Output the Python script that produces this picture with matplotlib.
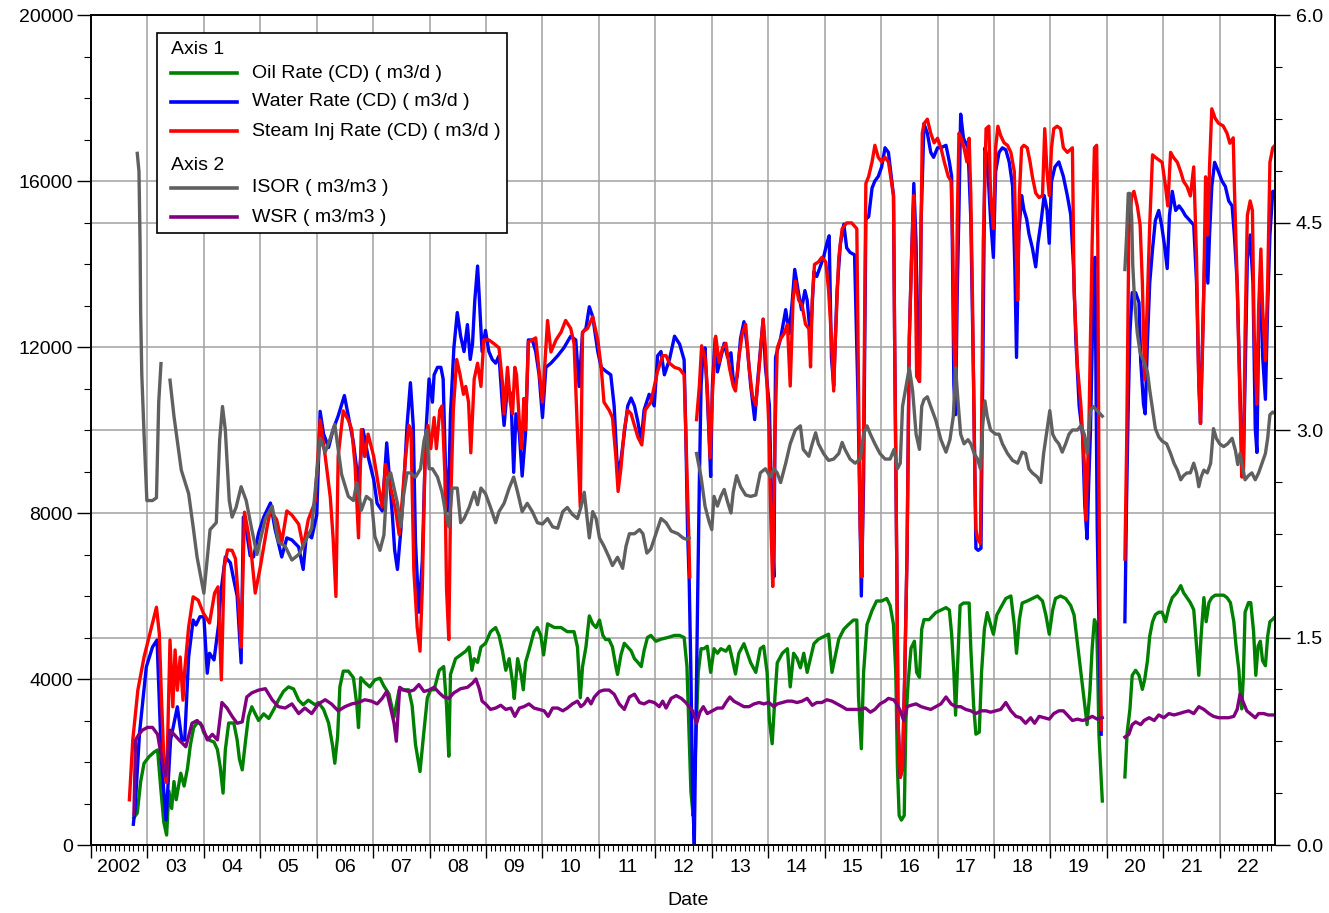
import numpy as np
import matplotlib

matplotlib.use("Agg")
import matplotlib.pyplot as plt
from matplotlib.lines import Line2D
from matplotlib.patches import Rectangle
from matplotlib.ticker import FixedLocator, FormatStrFormatter, MultipleLocator
from matplotlib.transforms import blended_transform_factory

plt.rcParams["font.family"] = ["Liberation Sans", "DejaVu Sans"]

nan = np.nan

# ---- data (decimal years) ----
oil_t = [
    2002.76, 2002.82, 2002.88, 2002.94, 2003.03, 2003.12, 2003.18, 2003.24, 2003.29, 2003.34,
    2003.38, 2003.43, 2003.47, 2003.51, 2003.59, 2003.65, 2003.71, 2003.76, 2003.82, 2003.88,
    2003.94, 2004.00, 2004.09, 2004.18, 2004.24, 2004.29, 2004.34, 2004.38, 2004.44, 2004.53,
    2004.59, 2004.63, 2004.68, 2004.74, 2004.79, 2004.85, 2004.91, 2004.97, 2005.06, 2005.15,
    2005.24, 2005.32, 2005.41, 2005.50, 2005.59, 2005.68, 2005.76, 2005.85, 2005.97, 2006.03,
    2006.12, 2006.21, 2006.28, 2006.32, 2006.37, 2006.41, 2006.47, 2006.56, 2006.65, 2006.71,
    2006.74, 2006.78, 2006.85, 2006.94, 2007.03, 2007.12, 2007.19, 2007.28, 2007.37, 2007.46,
    2007.54, 2007.63, 2007.69, 2007.75, 2007.83, 2007.89, 2007.96, 2008.02, 2008.08, 2008.17,
    2008.25, 2008.30, 2008.34, 2008.37, 2008.46, 2008.55, 2008.64, 2008.70, 2008.75, 2008.79,
    2008.85, 2008.91, 2008.99, 2009.08, 2009.17, 2009.23, 2009.29, 2009.35, 2009.41, 2009.47,
    2009.50, 2009.56, 2009.62, 2009.66, 2009.70, 2009.76, 2009.85, 2009.91, 2009.97, 2010.02,
    2010.09, 2010.21, 2010.33, 2010.44, 2010.56, 2010.62, 2010.67, 2010.71, 2010.77, 2010.83,
    2010.89, 2010.95, 2011.01, 2011.07, 2011.12, 2011.18, 2011.24, 2011.30, 2011.33, 2011.39,
    2011.45, 2011.51, 2011.57, 2011.63, 2011.69, 2011.75, 2011.80, 2011.86, 2011.92, 2012.01,
    2012.10, 2012.22, 2012.34, 2012.43, 2012.51, 2012.56, 2012.59, 2012.63, 2012.67, 2012.73,
    2012.76, 2012.81, 2012.86, 2012.92, 2012.98, 2013.04, 2013.10, 2013.16, 2013.25, 2013.31,
    2013.36, 2013.42, 2013.48, 2013.57, 2013.63, 2013.69, 2013.78, 2013.86, 2013.92, 2013.98,
    2014.02, 2014.07, 2014.12, 2014.16, 2014.25, 2014.34, 2014.39, 2014.45, 2014.51, 2014.57,
    2014.63, 2014.69, 2014.75, 2014.81, 2014.89, 2014.98, 2015.07, 2015.13, 2015.18, 2015.25,
    2015.34, 2015.42, 2015.51, 2015.57, 2015.60, 2015.65, 2015.69, 2015.75, 2015.84, 2015.92,
    2016.01, 2016.10, 2016.16, 2016.22, 2016.26, 2016.29, 2016.32, 2016.36, 2016.41, 2016.44,
    2016.48, 2016.53, 2016.59, 2016.63, 2016.68, 2016.72, 2016.76, 2016.85, 2016.97, 2017.06,
    2017.15, 2017.21, 2017.25, 2017.29, 2017.32, 2017.35, 2017.40, 2017.46, 2017.56, 2017.59,
    2017.64, 2017.68, 2017.74, 2017.78, 2017.83, 2017.88, 2017.94, 2017.99, 2018.05, 2018.12,
    2018.21, 2018.30, 2018.36, 2018.40, 2018.45, 2018.50, 2018.59, 2018.68, 2018.77, 2018.86,
    2018.92, 2018.98, 2019.04, 2019.09, 2019.18, 2019.27, 2019.36, 2019.42, 2019.48, 2019.54,
    2019.60, 2019.65, 2019.70, 2019.74, 2019.78, 2019.82, 2019.84, 2019.86, 2019.89, 2019.92,
    2020.10, 2020.32, 2020.36, 2020.41, 2020.45, 2020.51, 2020.57, 2020.63, 2020.67, 2020.72,
    2020.76, 2020.81, 2020.86, 2020.92, 2020.98, 2021.04, 2021.10, 2021.16, 2021.24, 2021.31,
    2021.36, 2021.42, 2021.48, 2021.54, 2021.59, 2021.63, 2021.67, 2021.72, 2021.76, 2021.81,
    2021.86, 2021.92, 2022.01, 2022.07, 2022.13, 2022.19, 2022.25, 2022.29, 2022.34, 2022.36,
    2022.39, 2022.42, 2022.45, 2022.51, 2022.55, 2022.60, 2022.64, 2022.68, 2022.72, 2022.76,
    2022.81, 2022.85, 2022.89, 2022.94, 2022.98,
]
oil_v = [
    660, 770, 1530, 1970, 2130, 2240, 2290, 1310, 550, 240,
    1300, 880, 1530, 1090, 1730, 1420, 1850, 2400, 2830, 2940,
    2940, 2700, 2530, 2480, 2300, 1880, 1250, 2290, 2940, 2940,
    2530, 2070, 1810, 2530, 3090, 3330, 3160, 3000, 3160, 3050,
    3270, 3490, 3700, 3810, 3760, 3490, 3380, 3490, 3380, 3430,
    3270, 2940, 2400, 1970, 2620, 3810, 4190, 4190, 4030, 3380,
    2830, 4030, 3920, 3810, 3980, 4020, 3830, 3640, 3080, 3740,
    3740, 3740, 3360, 2420, 1770, 2610, 3550, 3740, 3740, 4210,
    4300, 3360, 2140, 4110, 4490, 4580, 4670, 4770, 4210, 4490,
    4400, 4770, 4860, 5140, 5240, 5050, 4680, 4210, 4490, 3920,
    3530, 4490, 4120, 3740, 4400, 4680, 5140, 5240, 5050, 4580,
    5330, 5240, 5240, 5140, 5140, 4770, 3550, 4300, 4770, 5520,
    5330, 5240, 5420, 5050, 4950, 4950, 4770, 4300, 4110, 4580,
    4860, 4770, 4680, 4490, 4400, 4300, 4680, 5000, 5050, 4910,
    4960, 5000, 5050, 5050, 5000, 4300, 3010, 1290, 700, 3010,
    4160, 4730, 4730, 4790, 4160, 4730, 4620, 4730, 4670, 4790,
    4500, 4120, 4620, 4850, 4620, 4390, 4160, 4730, 4790, 4160,
    3010, 2440, 3590, 4390, 4620, 4730, 3810, 4620, 4500, 4270,
    4620, 4160, 4500, 4850, 4960, 5020, 5080, 4160, 4500, 4960,
    5200, 5310, 5420, 5420, 3580, 2320, 4160, 5310, 5650, 5880,
    5880, 5940, 5770, 5310, 4160, 1860, 710, 600, 710, 3010,
    3930, 4740, 4910, 4160, 4040, 5200, 5430, 5430, 5600, 5660,
    5720, 5660, 5080, 4160, 3130, 4160, 5770, 5830, 5830, 4740,
    3360, 2670, 2720, 4160, 5200, 5600, 5310, 5080, 5540, 5720,
    5940, 6000, 5310, 4620, 5430, 5830, 5880, 5940, 6000, 5880,
    5540, 5080, 5660, 5940, 6000, 5940, 5770, 5540, 4850, 4160,
    3470, 2900, 3700, 4740, 5430, 5310, 4160, 2670, 1860, 1060,
    nan, 1640, 2700, 3280, 4090, 4210, 4090, 3750, 3980, 4440,
    5030, 5380, 5550, 5610, 5610, 5380, 5730, 5960, 6080, 6250,
    6080, 5960, 5840, 5670, 4790, 4090, 5030, 5960, 5380, 5840,
    5960, 6020, 6020, 6020, 5960, 5840, 5380, 4790, 4210, 3750,
    3280, 4090, 5610, 5840, 5840, 5150, 4090, 4790, 4910, 4440,
    4320, 5030, 5380, 5440, 5500,
]

water_t = [
    2002.75, 2002.78, 2002.86, 2002.98, 2003.09, 2003.17, 2003.25, 2003.33, 2003.41, 2003.53,
    2003.61, 2003.66, 2003.73, 2003.81, 2003.86, 2003.93, 2004.00, 2004.06, 2004.10, 2004.18,
    2004.26, 2004.30, 2004.38, 2004.47, 2004.53, 2004.59, 2004.66, 2004.70, 2004.74, 2004.82,
    2004.88, 2004.97, 2005.06, 2005.18, 2005.26, 2005.38, 2005.47, 2005.56, 2005.68, 2005.76,
    2005.82, 2005.91, 2006.00, 2006.06, 2006.12, 2006.21, 2006.29, 2006.38, 2006.49, 2006.56,
    2006.65, 2006.74, 2006.82, 2006.91, 2007.01, 2007.07, 2007.16, 2007.24, 2007.28, 2007.34,
    2007.38, 2007.43, 2007.49, 2007.54, 2007.60, 2007.66, 2007.71, 2007.75, 2007.81, 2007.87,
    2007.93, 2007.99, 2008.05, 2008.08, 2008.14, 2008.20, 2008.24, 2008.28, 2008.33, 2008.37,
    2008.43, 2008.49, 2008.55, 2008.61, 2008.67, 2008.72, 2008.76, 2008.80, 2008.85, 2008.88,
    2008.93, 2008.99, 2009.05, 2009.11, 2009.17, 2009.23, 2009.29, 2009.32, 2009.38, 2009.44,
    2009.49, 2009.53, 2009.59, 2009.64, 2009.70, 2009.75, 2009.82, 2009.88, 2009.94, 2010.00,
    2010.06, 2010.15, 2010.27, 2010.38, 2010.50, 2010.59, 2010.65, 2010.71, 2010.77, 2010.83,
    2010.89, 2010.98, 2011.04, 2011.12, 2011.21, 2011.27, 2011.33, 2011.39, 2011.45, 2011.51,
    2011.57, 2011.63, 2011.69, 2011.75, 2011.80, 2011.89, 2011.98, 2012.04, 2012.10, 2012.16,
    2012.25, 2012.34, 2012.43, 2012.51, 2012.54, 2012.57, 2012.60, 2012.63, 2012.66, 2012.69,
    2012.72, 2012.75, 2012.78, 2012.81, 2012.84, 2012.88, 2012.92, 2012.95, 2012.98, 2013.01,
    2013.06, 2013.10, 2013.16, 2013.22, 2013.28, 2013.34, 2013.39, 2013.45, 2013.51, 2013.57,
    2013.63, 2013.69, 2013.76, 2013.82, 2013.91, 2013.95, 2014.02, 2014.07, 2014.10, 2014.13,
    2014.22, 2014.31, 2014.37, 2014.42, 2014.47, 2014.53, 2014.59, 2014.65, 2014.69, 2014.75,
    2014.81, 2014.86, 2014.92, 2014.98, 2015.04, 2015.08, 2015.12, 2015.16, 2015.22, 2015.28,
    2015.34, 2015.39, 2015.45, 2015.53, 2015.59, 2015.65, 2015.69, 2015.73, 2015.78, 2015.84,
    2015.89, 2015.95, 2016.01, 2016.07, 2016.13, 2016.18, 2016.22, 2016.24, 2016.28, 2016.30,
    2016.34, 2016.38, 2016.42, 2016.46, 2016.50, 2016.54, 2016.58, 2016.62, 2016.65, 2016.68,
    2016.71, 2016.76, 2016.82, 2016.88, 2016.93, 2017.00, 2017.06, 2017.15, 2017.21, 2017.25,
    2017.27, 2017.29, 2017.32, 2017.35, 2017.38, 2017.41, 2017.46, 2017.50, 2017.54, 2017.59,
    2017.64, 2017.68, 2017.72, 2017.77, 2017.80, 2017.84, 2017.88, 2017.94, 2017.99, 2018.03,
    2018.09, 2018.15, 2018.21, 2018.27, 2018.33, 2018.37, 2018.40, 2018.44, 2018.49, 2018.53,
    2018.58, 2018.62, 2018.68, 2018.74, 2018.78, 2018.84, 2018.89, 2018.94, 2018.98, 2019.02,
    2019.08, 2019.15, 2019.23, 2019.30, 2019.36, 2019.41, 2019.45, 2019.51, 2019.57, 2019.61,
    2019.65, 2019.68, 2019.71, 2019.76, 2019.79, 2019.83, 2019.86, 2019.90, 2020.10, 2020.32,
    2020.35, 2020.38, 2020.41, 2020.45, 2020.51, 2020.57, 2020.60, 2020.65, 2020.68, 2020.72,
    2020.76, 2020.81, 2020.86, 2020.92, 2020.97, 2021.02, 2021.07, 2021.11, 2021.16, 2021.22,
    2021.28, 2021.34, 2021.39, 2021.47, 2021.54, 2021.59, 2021.63, 2021.66, 2021.71, 2021.75,
    2021.79, 2021.82, 2021.86, 2021.91, 2021.98, 2022.04, 2022.10, 2022.16, 2022.22, 2022.26,
    2022.31, 2022.35, 2022.39, 2022.42, 2022.45, 2022.49, 2022.54, 2022.59, 2022.63, 2022.66,
    2022.69, 2022.73, 2022.76, 2022.81, 2022.85, 2022.89, 2022.94, 2022.98,
]
water_v = [
    500, 860, 2700, 4290, 4770, 4940, 2000, 600, 2530, 3330,
    2530, 2530, 4530, 5420, 5300, 5500, 5500, 4140, 4620, 4460,
    5300, 6070, 6940, 6800, 6390, 6000, 4390, 7900, 7700, 6970,
    6940, 7520, 7900, 8240, 7620, 6940, 7400, 7350, 7180, 6640,
    7520, 7400, 7950, 10450, 9910, 9580, 10010, 10340, 10830, 10340,
    9700, 8700, 10010, 9360, 8800, 8230, 8050, 9690, 8980, 7950,
    7110, 6640, 7580, 8610, 10110, 11140, 10110, 7300, 5610, 6830,
    9830, 11230, 10670, 11330, 11510, 11510, 11230, 9170, 8050, 10390,
    11980, 12830, 12260, 11890, 12540, 11700, 12070, 13110, 13950, 13200,
    11890, 12400, 11890, 11700, 11610, 11790, 10580, 10110, 11050, 10860,
    8980, 10390, 9920, 8890, 9920, 12170, 12170, 11890, 11330, 10300,
    11510, 11610, 11790, 11980, 12260, 12170, 11050, 12350, 12450, 12970,
    12730, 11890, 11510, 11420, 11330, 10580, 8980, 9270, 9920, 10580,
    10770, 10580, 10200, 9730, 10480, 10860, 10580, 11790, 11890, 11330,
    11700, 12260, 12070, 11690, 9910, 7610, 6350, 4160, 1290, 0,
    2990, 6000, 8760, 11060, 11750, 11980, 10830, 9910, 8880, 11060,
    12210, 11400, 11750, 12090, 11750, 11860, 11060, 11290, 12210, 12610,
    11980, 11060, 10250, 11290, 12670, 11520, 10600, 7610, 6460, 11750,
    12210, 12900, 12320, 13010, 13870, 13360, 12900, 13360, 13130, 12210,
    13820, 13700, 13930, 14160, 14500, 14680, 11750, 11060, 13360, 14500,
    14960, 14390, 14280, 14220, 10830, 6000, 8760, 15080, 15140, 15830,
    16000, 16110, 16340, 16800, 16690, 16110, 15650, 12200, 6460, 3010,
    1630, 1860, 4160, 7040, 12200, 14160, 15940, 14500, 11500, 11170,
    15080, 17380, 17150, 16690, 16570, 16800, 16800, 16860, 16460, 16110,
    13590, 11060, 10370, 13360, 15310, 17610, 17030, 16920, 16800, 15080,
    11060, 7150, 7100, 7150, 11060, 16800, 16570, 15080, 14160, 16230,
    16690, 16800, 16750, 16460, 15880, 13930, 11750, 14730, 15650, 15310,
    15080, 14730, 14390, 13930, 14500, 15080, 15650, 15310, 14500, 15990,
    16340, 16460, 16110, 15650, 15190, 13930, 12200, 10570, 9880, 8170,
    7380, 8760, 9970, 13360, 14160, 7610, 5310, 2670, nan, 5380,
    8290, 10620, 12370, 13310, 13310, 13070, 11670, 10620, 10390, 12140,
    13540, 14360, 15050, 15290, 14940, 14470, 13890, 15170, 15750, 15290,
    15400, 15290, 15170, 15050, 14940, 13540, 11210, 10160, 12960, 14940,
    13540, 14700, 15870, 16450, 16220, 16000, 15870, 15520, 15400, 14700,
    13540, 11440, 9460, 9230, 11210, 14120, 14700, 13540, 10040, 9460,
    12370, 14000, 11790, 10740, 12950, 14700, 15750, 15750,
]

steam_t = [
    2002.68, 2002.74, 2002.83, 2002.94, 2003.06, 2003.16, 2003.21, 2003.25, 2003.30, 2003.34,
    2003.40, 2003.45, 2003.49, 2003.53, 2003.58, 2003.63, 2003.66, 2003.73, 2003.81, 2003.90,
    2003.99, 2004.10, 2004.19, 2004.25, 2004.31, 2004.36, 2004.42, 2004.50, 2004.56, 2004.62,
    2004.66, 2004.72, 2004.79, 2004.85, 2004.91, 2005.00, 2005.12, 2005.18, 2005.29, 2005.38,
    2005.47, 2005.56, 2005.68, 2005.76, 2005.85, 2005.97, 2006.06, 2006.15, 2006.24, 2006.29,
    2006.34, 2006.38, 2006.47, 2006.56, 2006.62, 2006.68, 2006.74, 2006.79, 2006.85, 2006.91,
    2007.01, 2007.10, 2007.16, 2007.22, 2007.28, 2007.34, 2007.40, 2007.46, 2007.51, 2007.57,
    2007.63, 2007.67, 2007.72, 2007.78, 2007.83, 2007.87, 2007.92, 2007.97, 2008.02, 2008.08,
    2008.12, 2008.18, 2008.22, 2008.27, 2008.30, 2008.34, 2008.37, 2008.42, 2008.48, 2008.54,
    2008.60, 2008.64, 2008.69, 2008.73, 2008.79, 2008.85, 2008.91, 2008.96, 2009.05, 2009.14,
    2009.23, 2009.29, 2009.32, 2009.38, 2009.43, 2009.47, 2009.51, 2009.54, 2009.59, 2009.63,
    2009.67, 2009.70, 2009.75, 2009.88, 2009.94, 2010.00, 2010.06, 2010.09, 2010.15, 2010.24,
    2010.33, 2010.41, 2010.50, 2010.56, 2010.62, 2010.67, 2010.71, 2010.80, 2010.89, 2010.98,
    2011.04, 2011.09, 2011.18, 2011.24, 2011.30, 2011.34, 2011.39, 2011.45, 2011.51, 2011.57,
    2011.63, 2011.69, 2011.76, 2011.82, 2011.92, 2012.04, 2012.13, 2012.19, 2012.25, 2012.34,
    2012.43, 2012.51, 2012.56, 2012.59, 2012.61, 2012.66, 2012.73, 2012.78, 2012.82, 2012.88,
    2012.92, 2012.97, 2013.01, 2013.07, 2013.13, 2013.19, 2013.25, 2013.31, 2013.38, 2013.42,
    2013.48, 2013.54, 2013.60, 2013.66, 2013.72, 2013.78, 2013.84, 2013.91, 2013.95, 2014.01,
    2014.05, 2014.08, 2014.12, 2014.16, 2014.22, 2014.28, 2014.34, 2014.39, 2014.44, 2014.48,
    2014.54, 2014.60, 2014.66, 2014.72, 2014.75, 2014.78, 2014.82, 2014.89, 2014.95, 2015.02,
    2015.07, 2015.12, 2015.16, 2015.19, 2015.25, 2015.31, 2015.39, 2015.48, 2015.57, 2015.60,
    2015.63, 2015.66, 2015.69, 2015.73, 2015.78, 2015.84, 2015.89, 2015.95, 2016.01, 2016.07,
    2016.13, 2016.18, 2016.22, 2016.24, 2016.28, 2016.30, 2016.34, 2016.38, 2016.42, 2016.46,
    2016.50, 2016.54, 2016.58, 2016.60, 2016.63, 2016.68, 2016.71, 2016.73, 2016.76, 2016.82,
    2016.88, 2016.94, 2017.00, 2017.06, 2017.12, 2017.19, 2017.24, 2017.27, 2017.29, 2017.32,
    2017.35, 2017.38, 2017.42, 2017.47, 2017.52, 2017.56, 2017.59, 2017.62, 2017.65, 2017.68,
    2017.71, 2017.76, 2017.78, 2017.81, 2017.86, 2017.91, 2017.94, 2017.99, 2018.03, 2018.07,
    2018.12, 2018.18, 2018.24, 2018.30, 2018.36, 2018.39, 2018.42, 2018.45, 2018.49, 2018.53,
    2018.59, 2018.64, 2018.68, 2018.74, 2018.80, 2018.86, 2018.90, 2018.94, 2018.98, 2019.02,
    2019.06, 2019.12, 2019.18, 2019.23, 2019.30, 2019.39, 2019.42, 2019.48, 2019.54, 2019.60,
    2019.63, 2019.65, 2019.68, 2019.71, 2019.74, 2019.78, 2019.82, 2019.84, 2019.86, 2019.88,
    2019.90, 2020.10, 2020.32, 2020.35, 2020.39, 2020.44, 2020.48, 2020.54, 2020.59, 2020.63,
    2020.67, 2020.72, 2020.76, 2020.81, 2020.86, 2020.92, 2020.98, 2021.04, 2021.08, 2021.13,
    2021.18, 2021.25, 2021.31, 2021.36, 2021.42, 2021.48, 2021.54, 2021.59, 2021.63, 2021.66,
    2021.71, 2021.75, 2021.79, 2021.82, 2021.86, 2021.92, 2021.98, 2022.06, 2022.13, 2022.18,
    2022.24, 2022.26, 2022.31, 2022.35, 2022.39, 2022.42, 2022.45, 2022.49, 2022.54, 2022.58,
    2022.61, 2022.66, 2022.69, 2022.73, 2022.76, 2022.81, 2022.85, 2022.89, 2022.94, 2022.98,
]
steam_v = [
    1090, 2530, 3730, 4530, 5180, 5730, 5100, 3500, 1735, 1500,
    4940, 3330, 4700, 3730, 4530, 3490, 4200, 5250, 5980, 5900,
    5590, 5350, 6070, 6220, 3980, 6700, 7110, 7100, 6900, 5730,
    4770, 8020, 7500, 6900, 6070, 6700, 7660, 8070, 7840, 7290,
    8050, 7950, 7730, 7180, 7840, 8270, 10240, 9370, 8380, 7400,
    5990, 9370, 10460, 10240, 10010, 9140, 7400, 10010, 9360, 9900,
    9360, 8610, 8140, 9170, 8800, 8420, 8050, 7480, 8240, 9270,
    10110, 10010, 6640, 5240, 4670, 6170, 9360, 10110, 9550, 10300,
    9550, 10480, 10580, 8980, 6170, 4950, 8050, 10480, 11700, 11330,
    10860, 11050, 10670, 9450, 11230, 11610, 11050, 12170, 12170, 12080,
    11980, 11140, 10390, 11510, 10670, 10390, 11510, 11330, 10200, 9550,
    10760, 10010, 12120, 12220, 11420, 10670, 11980, 12640, 11880, 12170,
    12360, 12640, 12450, 12080, 9920, 8140, 12360, 12450, 12730, 12170,
    11510, 10670, 10480, 10300, 9360, 8520, 9080, 10010, 10480, 10390,
    10110, 9830, 9640, 10480, 10670, 11420, 11790, 11790, 11610, 11510,
    11470, 11330, 8980, 7580, 6460, nan, 10250, 11060, 12030, 11750,
    11060, 9330, 10830, 12260, 11630, 11980, 12090, 11520, 11060, 10940,
    11750, 12320, 12550, 11520, 10830, 10600, 11520, 12670, 11980, 10140,
    7610, 6230, 9910, 11980, 12200, 12320, 12550, 11060, 13130, 13590,
    13130, 13010, 12550, 12440, 11520, 13130, 13990, 14050, 14160, 14050,
    13360, 12200, 10940, 12200, 14160, 14850, 14990, 14990, 14850, 11060,
    7610, 6460, 9910, 15940, 16110, 16460, 16860, 16570, 16460, 16570,
    16460, 16000, 15650, 12200, 6460, 3010, 1630, 1860, 4160, 7040,
    12200, 14160, 15650, 14500, 11290, 11170, 15080, 17150, 17380, 17490,
    17150, 16920, 17030, 16800, 16460, 16110, 16000, 14500, 12200, 11060,
    15080, 17150, 17030, 16800, 16460, 17030, 15650, 13130, 9880, 7610,
    7380, 7270, 9880, 14500, 17260, 17320, 15650, 14850, 16800, 17320,
    17090, 16920, 16860, 16690, 16230, 14500, 13130, 15650, 16800, 16860,
    16800, 16460, 16110, 15710, 15600, 15650, 17260, 16230, 15650, 16800,
    17260, 17320, 17260, 16800, 16690, 16800, 13360, 11520, 10600, 9220,
    7830, 8760, 9880, 12200, 14500, 16800, 16860, 14500, 8760, 5310,
    2790, nan, 6890, 9530, 14700, 15640, 15750, 15400, 14940, 13540,
    11210, 13190, 14940, 16630, 16570, 16510, 16450, 15870, 15400, 16690,
    16570, 16450, 16220, 15990, 15870, 15640, 16340, 14120, 11030, 10160,
    12700, 16100, 14700, 16340, 17740, 17510, 17390, 17330, 17150, 16910,
    17040, 15870, 13540, 11210, 8870, 8870, 12370, 15170, 15520, 15290,
    12370, 10620, 12950, 14360, 12950, 11670, 13540, 16450, 16800, 16860,
]

isor_t = [
    2002.82, 2002.85, 2002.87, 2002.88, 2002.90, 2002.94, 2002.99, 2003.09, 2003.16, 2003.20,
    2003.24, 2003.32, 2003.40, 2003.47, 2003.60, 2003.73, 2003.81, 2003.88, 2004.00, 2004.11,
    2004.22, 2004.28, 2004.33, 2004.38, 2004.45, 2004.50, 2004.57, 2004.66, 2004.75, 2004.84,
    2004.94, 2005.09, 2005.21, 2005.32, 2005.44, 2005.56, 2005.68, 2005.79, 2005.91, 2006.06,
    2006.15, 2006.24, 2006.32, 2006.44, 2006.56, 2006.65, 2006.71, 2006.79, 2006.88, 2006.97,
    2007.03, 2007.12, 2007.19, 2007.25, 2007.31, 2007.37, 2007.43, 2007.49, 2007.54, 2007.60,
    2007.66, 2007.75, 2007.84, 2007.90, 2007.95, 2007.99, 2008.05, 2008.14, 2008.22, 2008.28,
    2008.34, 2008.40, 2008.49, 2008.55, 2008.61, 2008.70, 2008.79, 2008.85, 2008.91, 2008.99,
    2009.08, 2009.17, 2009.23, 2009.32, 2009.41, 2009.49, 2009.56, 2009.64, 2009.73, 2009.82,
    2009.91, 2010.00, 2010.09, 2010.18, 2010.27, 2010.36, 2010.44, 2010.53, 2010.62, 2010.68,
    2010.74, 2010.83, 2010.89, 2010.95, 2011.01, 2011.09, 2011.18, 2011.24, 2011.33, 2011.42,
    2011.48, 2011.54, 2011.63, 2011.72, 2011.78, 2011.85, 2011.92, 2012.01, 2012.10, 2012.19,
    2012.28, 2012.40, 2012.49, 2012.55, 2012.60, 2012.66, 2012.73, 2012.81, 2012.88, 2012.95,
    2013.00, 2013.04, 2013.10, 2013.16, 2013.22, 2013.28, 2013.34, 2013.38, 2013.44, 2013.51,
    2013.60, 2013.69, 2013.78, 2013.86, 2013.95, 2014.04, 2014.10, 2014.16, 2014.22, 2014.31,
    2014.39, 2014.48, 2014.57, 2014.62, 2014.72, 2014.78, 2014.84, 2014.89, 2014.98, 2015.07,
    2015.16, 2015.25, 2015.31, 2015.36, 2015.45, 2015.54, 2015.63, 2015.69, 2015.75, 2015.81,
    2015.89, 2015.98, 2016.07, 2016.16, 2016.23, 2016.29, 2016.34, 2016.38, 2016.44, 2016.50,
    2016.56, 2016.62, 2016.68, 2016.72, 2016.76, 2016.82, 2016.88, 2016.97, 2017.06, 2017.15,
    2017.22, 2017.28, 2017.32, 2017.37, 2017.41, 2017.47, 2017.54, 2017.59, 2017.65, 2017.71,
    2017.76, 2017.80, 2017.84, 2017.88, 2017.94, 2018.03, 2018.09, 2018.15, 2018.24, 2018.33,
    2018.42, 2018.50, 2018.56, 2018.62, 2018.68, 2018.77, 2018.83, 2018.88, 2018.95, 2018.99,
    2019.04, 2019.09, 2019.15, 2019.21, 2019.27, 2019.33, 2019.39, 2019.48, 2019.54, 2019.60,
    2019.65, 2019.71, 2019.76, 2019.83, 2019.92, 2020.10, 2020.32, 2020.35, 2020.38, 2020.41,
    2020.44, 2020.46, 2020.49, 2020.54, 2020.59, 2020.66, 2020.72, 2020.76, 2020.81, 2020.86,
    2020.92, 2020.98, 2021.06, 2021.13, 2021.19, 2021.25, 2021.31, 2021.36, 2021.42, 2021.48,
    2021.54, 2021.59, 2021.63, 2021.67, 2021.72, 2021.78, 2021.84, 2021.89, 2021.94, 2022.00,
    2022.07, 2022.14, 2022.22, 2022.28, 2022.32, 2022.36, 2022.41, 2022.45, 2022.51, 2022.57,
    2022.63, 2022.69, 2022.75, 2022.81, 2022.85, 2022.89, 2022.94, 2022.98,
]
isor_v = [
    5.00, 4.87, 4.34, 3.85, 3.40, 2.97, 2.49, 2.49, 2.51, 3.20,
    3.48, nan, 3.36, 3.10, 2.71, 2.54, 2.30, 2.08, 1.82, 2.28,
    2.33, 2.93, 3.17, 3.00, 2.49, 2.37, 2.44, 2.59, 2.49, 2.30,
    2.10, 2.36, 2.45, 2.19, 2.16, 2.06, 2.10, 2.19, 2.29, 2.94,
    2.84, 2.94, 3.04, 2.68, 2.52, 2.49, 2.62, 2.42, 2.52, 2.49,
    2.23, 2.13, 2.24, 2.64, 2.69, 2.58, 2.47, 2.30, 2.53, 2.69,
    2.69, 2.66, 2.72, 2.92, 3.00, 2.72, 2.72, 2.66, 2.55, 2.41,
    2.30, 2.58, 2.58, 2.33, 2.36, 2.44, 2.55, 2.46, 2.58, 2.54,
    2.44, 2.33, 2.41, 2.47, 2.58, 2.66, 2.55, 2.41, 2.47, 2.41,
    2.33, 2.32, 2.36, 2.30, 2.29, 2.41, 2.44, 2.39, 2.36, 2.44,
    2.55, 2.22, 2.41, 2.36, 2.22, 2.16, 2.08, 2.02, 2.08, 2.00,
    2.16, 2.25, 2.25, 2.28, 2.25, 2.11, 2.14, 2.25, 2.36, 2.33,
    2.27, 2.25, 2.22, 2.21, 2.22, nan, 2.83, 2.66, 2.45, 2.34,
    2.28, 2.52, 2.45, 2.52, 2.57, 2.48, 2.40, 2.55, 2.67, 2.59,
    2.53, 2.52, 2.53, 2.69, 2.72, 2.66, 2.72, 2.69, 2.62, 2.76,
    2.90, 3.00, 3.03, 2.86, 2.81, 2.90, 2.98, 2.90, 2.83, 2.78,
    2.79, 2.83, 2.91, 2.86, 2.79, 2.76, 2.79, 2.97, 3.03, 2.97,
    2.90, 2.83, 2.79, 2.79, 2.86, 2.72, 2.76, 3.17, 3.31, 3.45,
    3.28, 2.97, 2.86, 3.17, 3.22, 3.24, 3.17, 3.07, 2.93, 2.84,
    2.93, 3.10, 3.45, 3.17, 2.97, 2.90, 2.93, 2.90, 2.83, 2.79,
    2.72, 3.03, 3.21, 3.10, 3.00, 2.97, 2.97, 2.90, 2.83, 2.78,
    2.76, 2.84, 2.83, 2.72, 2.69, 2.66, 2.62, 2.83, 3.03, 3.14,
    2.97, 2.93, 2.90, 2.84, 2.90, 2.97, 3.00, 3.00, 3.03, 2.97,
    2.83, 3.14, 3.17, 3.14, 3.10, nan, 4.16, 4.40, 4.71, 4.71,
    4.54, 4.19, 3.95, 3.70, 3.56, 3.49, 3.42, 3.29, 3.15, 3.01,
    2.95, 2.92, 2.90, 2.83, 2.76, 2.71, 2.64, 2.67, 2.69, 2.69,
    2.76, 2.69, 2.59, 2.66, 2.71, 2.69, 2.76, 3.01, 2.94, 2.90,
    2.88, 2.90, 2.94, 2.85, 2.75, 2.83, 2.72, 2.64, 2.67, 2.69,
    2.64, 2.69, 2.76, 2.83, 2.94, 3.11, 3.13, 3.12,
]

wsr_t = [
    2002.76, 2002.79, 2002.85, 2002.91, 2003.00, 2003.09, 2003.18, 2003.26, 2003.32, 2003.40,
    2003.47, 2003.56, 2003.68, 2003.79, 2003.88, 2003.97, 2004.06, 2004.15, 2004.24, 2004.32,
    2004.41, 2004.50, 2004.59, 2004.68, 2004.76, 2004.85, 2004.97, 2005.09, 2005.21, 2005.32,
    2005.44, 2005.56, 2005.68, 2005.79, 2005.91, 2006.03, 2006.15, 2006.26, 2006.38, 2006.50,
    2006.62, 2006.74, 2006.85, 2006.97, 2007.07, 2007.16, 2007.24, 2007.31, 2007.37, 2007.41,
    2007.47, 2007.54, 2007.63, 2007.72, 2007.81, 2007.90, 2007.99, 2008.08, 2008.17, 2008.25,
    2008.34, 2008.43, 2008.55, 2008.67, 2008.76, 2008.82, 2008.88, 2008.93, 2008.99, 2009.08,
    2009.17, 2009.26, 2009.35, 2009.44, 2009.51, 2009.59, 2009.67, 2009.76, 2009.85, 2009.94,
    2010.03, 2010.10, 2010.18, 2010.27, 2010.36, 2010.44, 2010.53, 2010.62, 2010.68, 2010.74,
    2010.80, 2010.86, 2010.92, 2011.01, 2011.09, 2011.18, 2011.27, 2011.36, 2011.45, 2011.54,
    2011.63, 2011.72, 2011.80, 2011.89, 2011.98, 2012.07, 2012.13, 2012.19, 2012.28, 2012.37,
    2012.46, 2012.54, 2012.60, 2012.66, 2012.73, 2012.79, 2012.85, 2012.92, 2013.01, 2013.10,
    2013.19, 2013.25, 2013.32, 2013.39, 2013.48, 2013.57, 2013.66, 2013.75, 2013.84, 2013.92,
    2014.01, 2014.10, 2014.16, 2014.25, 2014.34, 2014.42, 2014.51, 2014.60, 2014.69, 2014.78,
    2014.86, 2014.95, 2015.04, 2015.13, 2015.22, 2015.31, 2015.39, 2015.48, 2015.56, 2015.63,
    2015.72, 2015.81, 2015.89, 2015.98, 2016.07, 2016.13, 2016.22, 2016.28, 2016.34, 2016.40,
    2016.46, 2016.53, 2016.62, 2016.71, 2016.79, 2016.88, 2016.97, 2017.06, 2017.15, 2017.24,
    2017.32, 2017.41, 2017.50, 2017.59, 2017.68, 2017.77, 2017.86, 2017.94, 2018.03, 2018.12,
    2018.21, 2018.30, 2018.39, 2018.47, 2018.56, 2018.65, 2018.72, 2018.80, 2018.89, 2018.98,
    2019.06, 2019.15, 2019.23, 2019.30, 2019.39, 2019.48, 2019.57, 2019.65, 2019.74, 2019.83,
    2019.92, 2020.10, 2020.32, 2020.39, 2020.45, 2020.51, 2020.60, 2020.66, 2020.75, 2020.84,
    2020.92, 2021.01, 2021.10, 2021.19, 2021.28, 2021.36, 2021.45, 2021.54, 2021.63, 2021.72,
    2021.81, 2021.89, 2021.98, 2022.07, 2022.16, 2022.25, 2022.31, 2022.36, 2022.41, 2022.48,
    2022.57, 2022.63, 2022.69, 2022.78, 2022.86, 2022.95,
]
wsr_v = [
    0.22, 0.76, 0.80, 0.83, 0.85, 0.85, 0.80, 0.61, 0.50, 0.83,
    0.80, 0.76, 0.71, 0.88, 0.90, 0.86, 0.76, 0.80, 0.76, 1.03,
    0.99, 0.93, 0.88, 0.89, 1.07, 1.10, 1.12, 1.13, 1.05, 1.00,
    0.99, 1.02, 0.95, 0.99, 0.95, 1.02, 1.05, 1.02, 0.97, 1.00,
    1.02, 1.03, 1.05, 1.04, 1.02, 1.06, 1.11, 0.99, 0.88, 0.75,
    1.14, 1.12, 1.11, 1.12, 1.16, 1.11, 1.12, 1.14, 1.10, 1.07,
    1.06, 1.10, 1.13, 1.14, 1.17, 1.20, 1.13, 1.04, 1.02, 0.98,
    0.99, 1.01, 0.98, 0.99, 0.93, 0.99, 1.00, 1.02, 0.99, 0.98,
    0.97, 0.93, 0.99, 0.99, 0.97, 0.99, 1.02, 1.04, 1.00, 1.02,
    1.06, 1.02, 1.07, 1.11, 1.12, 1.12, 1.09, 1.02, 0.98, 1.07,
    1.09, 1.03, 1.02, 1.04, 1.03, 1.00, 1.04, 0.99, 1.06, 1.08,
    1.06, 1.03, 1.00, 0.97, 0.88, 0.96, 1.00, 0.95, 0.97, 0.99,
    0.99, 1.03, 1.07, 1.04, 1.02, 1.00, 1.00, 1.02, 1.03, 1.02,
    1.03, 1.00, 1.02, 1.03, 1.04, 1.04, 1.03, 1.04, 1.06, 1.01,
    1.03, 1.03, 1.05, 1.04, 1.02, 1.00, 0.98, 0.98, 0.98, 0.98,
    0.99, 0.96, 0.98, 1.02, 1.04, 1.06, 1.05, 1.02, 0.97, 0.90,
    1.00, 1.01, 1.02, 1.00, 0.99, 0.98, 1.00, 1.02, 1.07, 1.02,
    1.00, 1.00, 0.98, 0.97, 0.95, 0.97, 0.97, 0.96, 0.97, 0.98,
    1.03, 0.97, 0.93, 0.92, 0.88, 0.92, 0.88, 0.93, 0.92, 0.91,
    0.95, 0.97, 0.97, 0.94, 0.90, 0.91, 0.90, 0.91, 0.93, 0.91,
    0.92, nan, 0.78, 0.80, 0.87, 0.89, 0.87, 0.90, 0.92, 0.90,
    0.94, 0.92, 0.95, 0.94, 0.95, 0.96, 0.97, 0.95, 1.00, 0.98,
    0.95, 0.93, 0.92, 0.92, 0.92, 0.93, 0.98, 1.09, 1.04, 0.97,
    0.94, 0.92, 0.95, 0.95, 0.94, 0.94,
]

year_ticks = list(range(2002, 2023))
year_labels = ["2002"] + [f"{y % 100:02d}" for y in range(2003, 2023)]

W, H = 1329, 913


def fpos(x, y):
    """Pixel position (from top-left) -> figure fraction."""
    return x / W, 1 - y / H


fig = plt.figure(figsize=(W / 100, H / 100), dpi=100)
ax = fig.add_axes([91 / W, 1 - 845 / H, (1275 - 91) / W, (845 - 15) / H])
ax2 = ax.twinx()

LW = 2.4
ax.plot(oil_t, oil_v, color="#008000", lw=LW, zorder=3)
ax.plot(water_t, water_v, color="#0000ff", lw=LW, zorder=4)
ax.plot(steam_t, steam_v, color="#ff0000", lw=LW, zorder=5)
ax2.plot(isor_t, isor_v, color="#606060", lw=LW)
ax2.plot(wsr_t, wsr_v, color="#800080", lw=LW)

ax.set_xlim(2002.0, 2022.98)
ax.set_ylim(0, 20000)
ax2.set_ylim(0, 6.0)

grid_kw = dict(color="#a0a0a0", lw=1.1)
ax.set_axisbelow(True)
ax.grid(True, which="major", **grid_kw)
right_major = [0, 1.5, 3.0, 4.5, 6.0]
trans = blended_transform_factory(ax.transAxes, ax2.transData)
for r in right_major[1:-1]:
    ax.plot([0, 1], [r, r], transform=trans, zorder=1, **grid_kw)

# x axis: year boundaries as major ticks, months as minor, labels mid-year
ax.set_xticks(year_ticks)
ax.xaxis.set_minor_locator(MultipleLocator(1 / 12))
ax.tick_params(axis="x", which="major", length=9, width=1.0, labelbottom=False)
ax.tick_params(axis="x", which="minor", length=4, width=0.8)
sec = ax.secondary_xaxis("bottom")
sec.set_xticks([y + 0.5 for y in year_ticks], labels=year_labels)
sec.tick_params(length=0, pad=10, labelsize=14)
sec.spines["bottom"].set_visible(False)

ax.yaxis.set_major_locator(MultipleLocator(4000))
ax.yaxis.set_minor_locator(MultipleLocator(1000))
ax.tick_params(axis="y", which="major", length=10, width=1.0, pad=3, labelsize=14)
ax.tick_params(axis="y", which="minor", length=5, width=0.8)

ax2.yaxis.set_major_locator(FixedLocator(right_major))
ax2.yaxis.set_minor_locator(MultipleLocator(0.375))
ax2.yaxis.set_major_formatter(FormatStrFormatter("%.1f"))
ax2.tick_params(axis="y", which="major", length=11, width=1.0, pad=4, labelsize=14)
ax2.tick_params(axis="y", which="minor", length=5, width=0.8)

for a in (ax, ax2):
    for s in a.spines.values():
        s.set_linewidth(1.2)

fig.text(*fpos(688, 900), "Date", ha="center", va="center", fontsize=14)

# legend box, built by hand to get the two group headers
x0, y0 = fpos(157, 233)
x1, y1 = fpos(507, 33)
fig.add_artist(Rectangle((x0, y0), x1 - x0, y1 - y0, transform=fig.transFigure,
                         facecolor="white", edgecolor="black", lw=1.2, zorder=10))
legend_rows = [
    ("Axis 1", None, 50),
    ("Oil Rate (CD) ( m3/d )", "#008000", 73),
    ("Water Rate (CD) ( m3/d )", "#0000ff", 102),
    ("Steam Inj Rate (CD) ( m3/d )", "#ff0000", 131),
    ("Axis 2", None, 165),
    ("ISOR ( m3/m3 )", "#606060", 188),
    ("WSR ( m3/m3 )", "#800080", 217),
]
for label, color, ypx in legend_rows:
    if color is None:
        fig.text(*fpos(171, ypx), label, ha="left", va="center", fontsize=14, zorder=11)
        continue
    xa, ya = fpos(171, ypx)
    xb, _ = fpos(237, ypx)
    fig.add_artist(Line2D([xa, xb], [ya, ya], transform=fig.transFigure,
                          color=color, lw=2.6, zorder=11))
    fig.text(*fpos(252, ypx), label, ha="left", va="center", fontsize=14, zorder=11)

fig.savefig("out.png", dpi=100)
